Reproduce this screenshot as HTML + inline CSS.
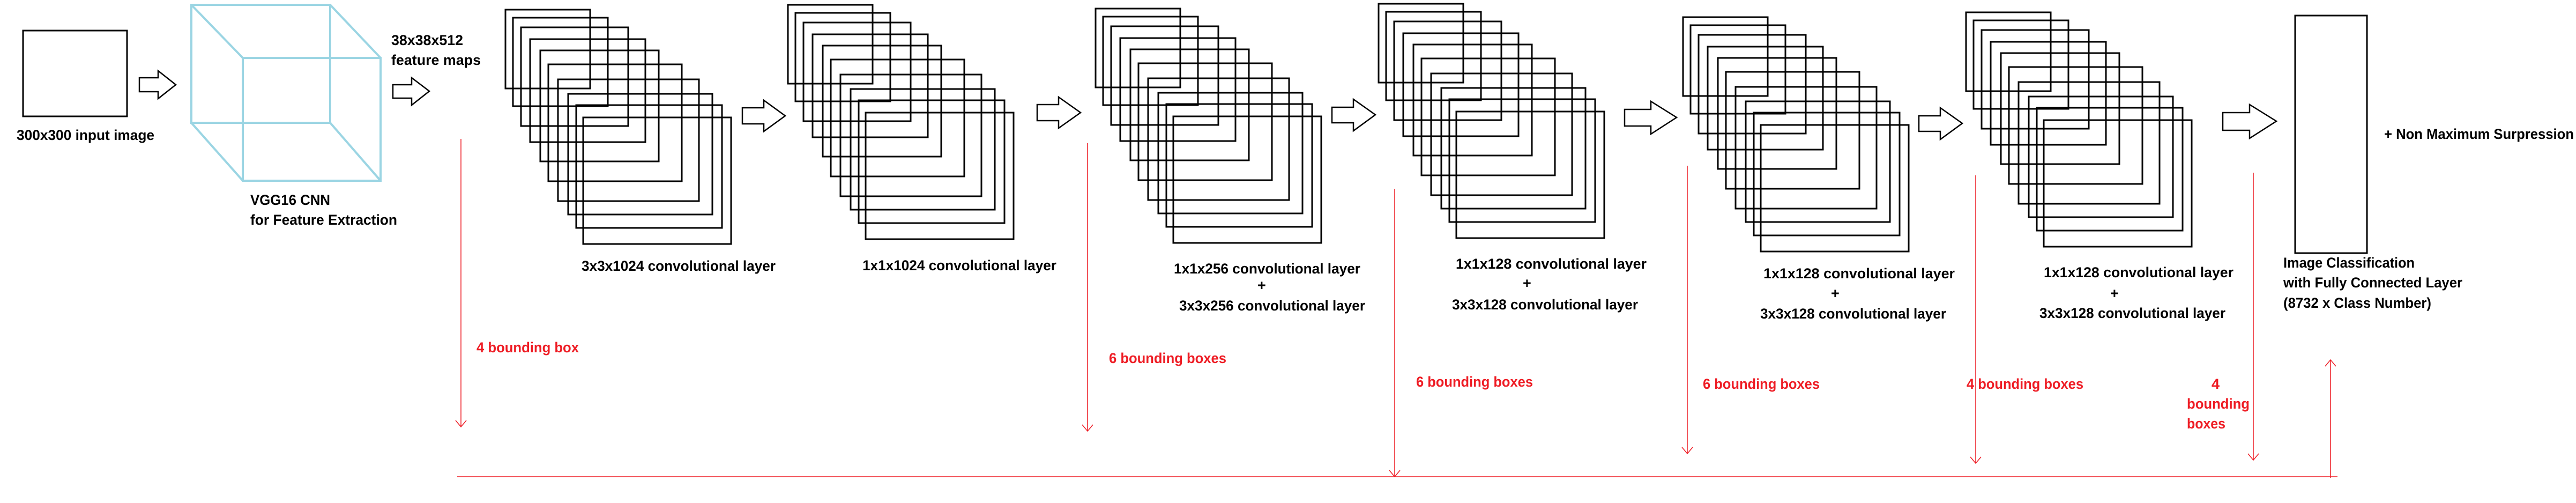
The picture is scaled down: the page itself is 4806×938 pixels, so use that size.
<!DOCTYPE html>
<html><head><meta charset="utf-8"><style>
html,body{margin:0;padding:0;background:#fff;}
svg{display:block;}
text{font-family:"Liberation Sans",sans-serif;font-weight:bold;font-size:27px;}
.r{fill:#ee1c24;}
</style></head><body>
<svg width="4806" height="938" viewBox="0 0 4806 938" xmlns="http://www.w3.org/2000/svg">
<defs>
<g id="stk" fill="none" stroke="#000" stroke-width="3">
<rect x="0" y="0" width="158" height="147"/>
<rect x="14" y="15" width="177" height="165"/>
<rect x="29" y="33" width="200" height="184"/>
<rect x="46" y="55" width="215" height="192"/>
<rect x="65" y="76" width="221" height="207"/>
<rect x="80" y="102" width="249" height="218"/>
<rect x="98" y="130" width="263" height="227"/>
<rect x="117" y="157" width="269" height="225"/>
<rect x="132" y="178" width="272" height="229"/>
<rect x="145" y="201" width="276" height="236"/>
</g>
</defs>
<rect x="43" y="57" width="194" height="160" fill="none" stroke="#000" stroke-width="3"/>
<text x="31" y="261" textLength="257" lengthAdjust="spacingAndGlyphs">300x300 input image</text>
<g fill="none" stroke="#9bd5e3" stroke-width="4">
<rect x="357" y="9" width="259" height="220"/>
<rect x="453" y="108" width="257" height="229"/>
<line x1="357" y1="9" x2="453" y2="108"/>
<line x1="616" y1="9" x2="710" y2="108"/>
<line x1="357" y1="229" x2="453" y2="337"/>
<line x1="616" y1="229" x2="710" y2="337"/>
</g>
<text x="467" y="382" textLength="149" lengthAdjust="spacingAndGlyphs">VGG16 CNN</text>
<text x="467" y="419" textLength="274" lengthAdjust="spacingAndGlyphs">for Feature Extraction</text>
<text x="730" y="84" textLength="134" lengthAdjust="spacingAndGlyphs">38x38x512</text>
<text x="730" y="121" textLength="167" lengthAdjust="spacingAndGlyphs">feature maps</text>
<g fill="none" stroke="#000" stroke-width="2.5" stroke-linejoin="miter">
<polygon points="260,145 295,145 295,132 328,158 295,184 295,171 260,171"/>
<polygon points="733,158 768,158 768,145 801,170 768,196 768,183 733,183"/>
<polygon points="1385,201 1425,201 1425,187 1465,216 1425,245 1425,231 1385,231"/>
<polygon points="1935,195 1975,195 1975,181 2016,210 1975,239 1975,225 1935,225"/>
<polygon points="2485,200 2525,200 2525,185 2566,214 2525,244 2525,229 2485,229"/>
<polygon points="3031,204 3080,204 3080,189 3128,219 3080,250 3080,235 3031,235"/>
<polygon points="3580,216 3620,216 3620,201 3661,230 3620,260 3620,245 3580,245"/>
<polygon points="4147,210 4197,210 4197,195 4247,226 4197,258 4197,243 4147,243"/>
</g>
<use href="#stk" x="943" y="18"/>
<use href="#stk" x="1470" y="9"/>
<use href="#stk" x="2044" y="16"/>
<use href="#stk" x="2572" y="7"/>
<use href="#stk" x="3140" y="32"/>
<use href="#stk" x="3668" y="23"/>
<text x="1085" y="505" textLength="362" lengthAdjust="spacingAndGlyphs">3x3x1024 convolutional layer</text>
<text x="1609" y="504" textLength="362" lengthAdjust="spacingAndGlyphs">1x1x1024 convolutional layer</text>
<text x="2190" y="510" textLength="348" lengthAdjust="spacingAndGlyphs">1x1x256 convolutional layer</text>
<text x="2346" y="541">+</text>
<text x="2200" y="579" textLength="347" lengthAdjust="spacingAndGlyphs">3x3x256 convolutional layer</text>
<text x="2716" y="501" textLength="356" lengthAdjust="spacingAndGlyphs">1x1x128  convolutional layer</text>
<text x="2841" y="537">+</text>
<text x="2709" y="577" textLength="347" lengthAdjust="spacingAndGlyphs">3x3x128 convolutional layer</text>
<text x="3290" y="519" textLength="357" lengthAdjust="spacingAndGlyphs">1x1x128  convolutional layer</text>
<text x="3416" y="556">+</text>
<text x="3284" y="594" textLength="347" lengthAdjust="spacingAndGlyphs">3x3x128 convolutional layer</text>
<text x="3813" y="517" textLength="354" lengthAdjust="spacingAndGlyphs">1x1x128  convolutional layer</text>
<text x="3937" y="556">+</text>
<text x="3805" y="593" textLength="347" lengthAdjust="spacingAndGlyphs">3x3x128 convolutional layer</text>
<rect x="4282" y="29" width="134" height="443" fill="none" stroke="#000" stroke-width="3"/>
<text x="4448" y="259" textLength="354" lengthAdjust="spacingAndGlyphs">+ Non Maximum Surpression</text>
<text x="4260" y="499" textLength="245" lengthAdjust="spacingAndGlyphs">Image Classification</text>
<text x="4260" y="536" textLength="334" lengthAdjust="spacingAndGlyphs">with Fully Connected Layer</text>
<text x="4260" y="574" textLength="276" lengthAdjust="spacingAndGlyphs">(8732 x Class Number)</text>
<g stroke="#ee1c24" stroke-width="1.5" fill="none">
<path d="M860,259 V796 M850,784 L860,796 L870,784"/>
<path d="M2029,267 V804 M2019,792 L2029,804 L2039,792"/>
<path d="M2602,352 V889 M2592,877 L2602,889 L2612,877"/>
<path d="M3148,309 V846 M3138,834 L3148,846 L3158,834"/>
<path d="M3686,327 V864 M3676,852 L3686,864 L3696,852"/>
<path d="M4204,322 V858 M4194,846 L4204,858 L4214,846"/>
<path d="M4348,891 V671 M4338,683 L4348,671 L4358,683"/>
<path d="M853,889 H4361"/>
</g>
<text class="r" x="889" y="657" textLength="191" lengthAdjust="spacingAndGlyphs">4 bounding box</text>
<text class="r" x="2069" y="677" textLength="219" lengthAdjust="spacingAndGlyphs">6 bounding boxes</text>
<text class="r" x="2642" y="721" textLength="218" lengthAdjust="spacingAndGlyphs">6 bounding boxes</text>
<text class="r" x="3177" y="725" textLength="218" lengthAdjust="spacingAndGlyphs">6 bounding boxes</text>
<text class="r" x="3669" y="725" textLength="218" lengthAdjust="spacingAndGlyphs">4 bounding boxes</text>
<text class="r" x="4126" y="725">4</text>
<text class="r" x="4080" y="762" textLength="117" lengthAdjust="spacingAndGlyphs">bounding</text>
<text class="r" x="4080" y="799" textLength="72" lengthAdjust="spacingAndGlyphs">boxes</text>
</svg>
</body></html>
